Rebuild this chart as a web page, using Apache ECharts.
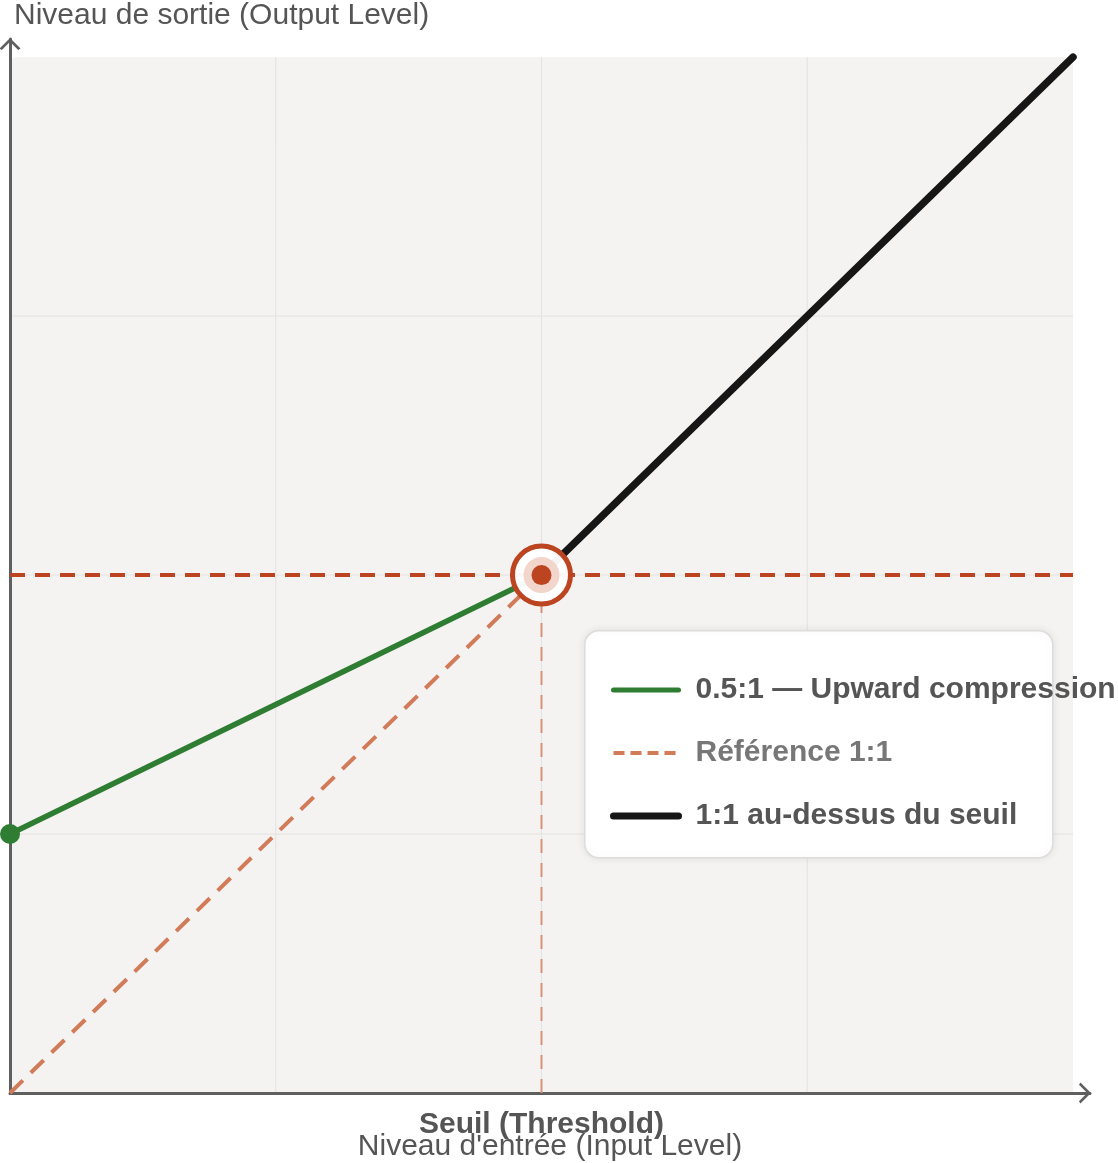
<!DOCTYPE html>
<html><head><meta charset="utf-8">
<script src="https://cdn.jsdelivr.net/npm/echarts@6/dist/echarts.min.js"></script>
<style>html,body{margin:0;padding:0;background:#fff}#c{width:1118px;height:1163px}</style>
</head><body><div id="c"></div>
<script>
// ---- data ----
const compressionCurve = [[0, 1], [2, 2]];
const referenceLine = [[0, 0], [2, 2]];
const aboveThreshold = [[2, 2], [4, 4]];
const thresholdHLine = [[0, 2], [4, 2]];
const thresholdVLine = [[2, 0], [2, 2]];
const thresholdPoint = [[2, 2]];
const startPoint = [[0, 1]];
const gridXValues = [1, 2, 3];
const gridYValues = [1, 2, 3];
const plotExtent = [0, 4];
const xAxisMax = 4.064;
const yAxisMax = 4.07;
const thresholdValue = 2;
const thresholdLabel = 'Seuil (Threshold)';
const seriesNames = ['0.5:1 — Upward compression', 'Référence 1:1', '1:1 au-dessus du seuil'];
const xAxisName = "Niveau d'entrée (Input Level)";
const yAxisName = 'Niveau de sortie (Output Level)';

const FONT = '"Liberation Sans", Arial, Helvetica, sans-serif';
const RUST = '#bd4420';
const SALMON = '#d27b58';
const GREEN = '#2e7d32';
const BLACK = '#161616';
const chevron = 'path://M0,11 L11,0 L22,11 L19.5,12.5 L11,4 L2.5,12.5 Z';

const chart = echarts.init(document.getElementById('c'), null, {renderer: 'canvas'});

const gridLineSeries = [];
gridXValues.forEach(v => gridLineSeries.push({
  type: 'line', data: [[v, plotExtent[0]], [v, plotExtent[1]]], symbol: 'none', silent: true, z: 1,
  lineStyle: {color: '#e4e2df', width: 1}
}));
gridYValues.forEach(v => gridLineSeries.push({
  type: 'line', data: [[plotExtent[0], v], [plotExtent[1], v]], symbol: 'none', silent: true, z: 1,
  lineStyle: {color: '#e4e2df', width: 1}
}));

const axisLineCommon = {
  show: true,
  lineStyle: {color: '#5f5f5f', width: 3},
  symbol: ['none', chevron],
  symbolSize: [22, 12],
  symbolOffset: [0, -5]
};

chart.setOption({
  animation: false,
  backgroundColor: '#ffffff',
  grid: {left: 10, right: 28, top: 39, bottom: 70, containLabel: false, outerBoundsMode: 'none'},
  xAxis: {
    type: 'value', min: 0, max: xAxisMax, interval: 1, z: 1.5,
    splitLine: {show: false}, axisTick: {show: false},
    axisLine: axisLineCommon,
    axisLabel: {
      formatter: v => (v === thresholdValue ? thresholdLabel : ''),
      fontSize: 30, fontWeight: 'bold', color: '#555', margin: 17, fontFamily: FONT
    },
    name: xAxisName, nameLocation: 'middle', nameGap: 39, nameMoveOverlap: false,
    nameTextStyle: {fontSize: 30, color: '#555', fontFamily: FONT}
  },
  yAxis: {
    type: 'value', min: 0, max: yAxisMax, interval: 1, z: 1.5,
    splitLine: {show: false}, axisTick: {show: false}, axisLabel: {show: false},
    axisLine: axisLineCommon,
    name: yAxisName, nameLocation: 'end', nameGap: 8, nameMoveOverlap: false,
    nameTextStyle: {fontSize: 30, color: '#555', fontFamily: FONT, align: 'left', verticalAlign: 'bottom', padding: [0, 0, 0, 4]}
  },
  legend: {
    orient: 'vertical', left: 605, top: 670, itemWidth: 65, itemHeight: 20, itemGap: 33, z: 6,
    selectedMode: false,
    itemStyle: {opacity: 0},
    textStyle: {fontSize: 30, lineHeight: 30, fontWeight: 'bold', color: '#555', fontFamily: FONT, padding: [0, 0, 0, 12]},
    data: [
      {name: seriesNames[0], lineStyle: {width: 5, cap: 'round'}},
      {name: seriesNames[1], lineStyle: {width: 4, type: [11, 6]}, textStyle: {color: '#777'}},
      {name: seriesNames[2], lineStyle: {width: 7, cap: 'round'}}
    ]
  },
  graphic: [{
    type: 'rect', left: 584, top: 630, z: 5,
    shape: {width: 468, height: 227, r: 14},
    style: {fill: '#ffffff', stroke: '#dcdcdc', lineWidth: 1.5, shadowBlur: 8, shadowColor: 'rgba(0,0,0,0.08)'}
  }],
  series: [
    {
      type: 'custom', z: -1, silent: true,
      data: [[plotExtent[0], plotExtent[0], plotExtent[1], plotExtent[1]]],
      encode: {x: [0, 2], y: [1, 3]},
      renderItem: (params, api) => {
        const p0 = api.coord([api.value(0), api.value(3)]);
        const p1 = api.coord([api.value(2), api.value(1)]);
        return {type: 'rect', shape: {x: p0[0], y: p0[1], width: p1[0] - p0[0], height: p1[1] - p0[1], r: [6, 0, 0, 0]}, style: {fill: '#f4f3f1'}};
      }
    },
    ...gridLineSeries,
    {
      name: seriesNames[1], type: 'line', data: referenceLine, symbol: 'none', z: 2, color: SALMON,
      lineStyle: {color: SALMON, width: 4, type: [18, 11]}
    },
    {
      type: 'line', data: thresholdVLine, symbol: 'none', z: 2, silent: true,
      lineStyle: {color: '#d99478', width: 2, type: [14, 10]}
    },
    {
      type: 'line', data: thresholdHLine, symbol: 'none', z: 2, silent: true,
      lineStyle: {color: RUST, width: 4, type: [15, 10]}
    },
    {
      name: seriesNames[0], type: 'line', data: compressionCurve, symbol: 'none', z: 2, color: GREEN,
      lineStyle: {color: GREEN, width: 5.5, cap: 'round'}
    },
    {
      name: seriesNames[2], type: 'line', data: aboveThreshold, symbol: 'none', z: 2, color: BLACK,
      lineStyle: {color: BLACK, width: 7.5, cap: 'round'}
    },
    {
      type: 'scatter', data: startPoint, symbol: 'circle', symbolSize: 20, z: 3, silent: true,
      itemStyle: {color: GREEN, opacity: 1}
    },
    {
      type: 'scatter', data: thresholdPoint, symbol: 'circle', symbolSize: 58, z: 3, silent: true,
      itemStyle: {color: 'rgba(255,255,255,0.96)', borderColor: RUST, borderWidth: 5, opacity: 1}
    },
    {
      type: 'scatter', data: thresholdPoint, symbol: 'circle', symbolSize: 36, z: 3, silent: true,
      itemStyle: {color: '#f2d6cb', opacity: 1}
    },
    {
      type: 'scatter', data: thresholdPoint, symbol: 'circle', symbolSize: 20, z: 3, silent: true,
      itemStyle: {color: RUST, opacity: 1}
    }
  ]
});
</script>
</body></html>
